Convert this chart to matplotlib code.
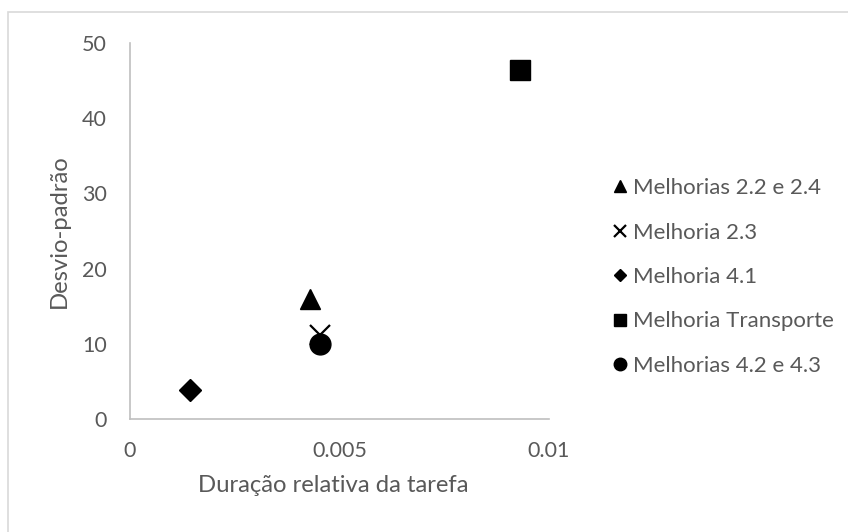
import matplotlib
matplotlib.use("Agg")
import matplotlib.pyplot as plt
from matplotlib.patches import Rectangle

# duração relativa vs desvio-padrão de cada melhoria
series_names = ["Melhorias 2.2 e 2.4", "Melhoria 2.3", "Melhoria 4.1",
                "Melhoria Transporte", "Melhorias 4.2 e 4.3"]
duracao = [0.00430, 0.00453, 0.00143, 0.00931, 0.00453]
desvio = [16.0, 11.2, 3.9, 46.4, 10.0]
markers = ["^", "x", "D", "s", "o"]
sizes = [15, 14, 11, 14, 15]

x_ticks = [0, 0.005, 0.01]
x_tick_labels = ["0", "0.005", "0.01"]
y_ticks = [0, 10, 20, 30, 40, 50]

gray_text = "#595959"
gray_line = "#BFBFBF"

plt.rcParams["font.family"] = ["Lato", "DejaVu Sans"]

fig = plt.figure(figsize=(8.48, 5.32), dpi=100)
ax = fig.add_axes([130/848, 1 - 419/532, 419/848, 376/532])

for name, x, y, m, s in zip(series_names, duracao, desvio, markers, sizes):
    if m == "x":
        ax.plot([x], [y], linestyle="none", marker=m, markersize=s,
                markeredgewidth=1.6, color="black", label=name)
    else:
        ax.plot([x], [y], linestyle="none", marker=m, markersize=s,
                color="black", label=name)

ax.set_xlim(0, 0.01)
ax.set_ylim(0, 50)
ax.set_xticks(x_ticks)
ax.set_xticklabels(x_tick_labels)
ax.set_yticks(y_ticks)
ax.tick_params(length=0, labelsize=15.5, colors=gray_text)
ax.tick_params(axis="x", pad=16)
ax.tick_params(axis="y", pad=16.5)

for side in ["top", "right"]:
    ax.spines[side].set_visible(False)
for side in ["left", "bottom"]:
    ax.spines[side].set_color(gray_line)
    ax.spines[side].set_linewidth(1.2)

ax.set_xlabel("Duração relativa da tarefa", fontsize=17.2, color=gray_text)
ax.xaxis.set_label_coords((333 - 130) / 419, -0.15)
ax.set_ylabel("Desvio-padrão", fontsize=17.2, color=gray_text, labelpad=9)

leg = fig.legend(loc="center left", bbox_to_anchor=(592/848, 1 - 277/532),
                 frameon=False, fontsize=16, markerscale=0.6,
                 handlelength=0.7, handletextpad=0.25, labelspacing=1.1)
for t in leg.get_texts():
    t.set_color(gray_text)

# moldura cinza em volta do gráfico
fig.patches.append(Rectangle((8/848, -0.01), 1.0, 1 - 12/532 + 0.01,
                             transform=fig.transFigure, fill=False,
                             edgecolor="#D9D9D9", linewidth=1.2))

fig.savefig("out.png", dpi=100)
